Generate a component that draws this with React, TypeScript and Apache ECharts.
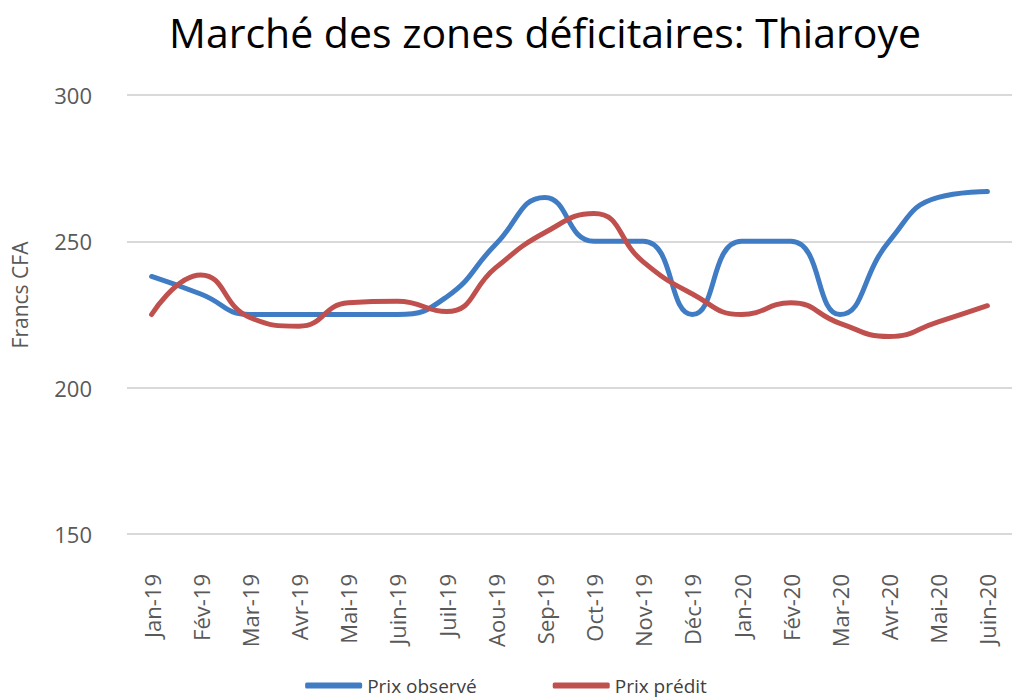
import React, { useEffect, useRef } from "react";
import * as echarts from "echarts";

const titleText = "Marché des zones déficitaires: Thiaroye";
const yAxisName = "Francs CFA";
const categories = [
  "Jan-19", "Fév-19", "Mar-19", "Avr-19", "Mai-19", "Juin-19", "Juil-19", "Aou-19", "Sep-19",
  "Oct-19", "Nov-19", "Déc-19", "Jan-20", "Fév-20", "Mar-20", "Avr-20", "Mai-20", "Juin-20",
];
const observedName = "Prix observé";
const observed = [238, 232, 225, 225, 225, 225, 231, 249, 265, 250, 250, 225, 250, 250, 225, 250, 265, 267];
const predictedName = "Prix prédit";
const predicted = [225, 238.5, 224, 221, 229, 229.5, 226, 241, 253, 259.5, 243, 232, 225, 229, 222, 217.5, 222.5, 228];
const yTicks = { min: 150, max: 300, interval: 50 };

const labelFont = "'Open Sans', sans-serif";

export default function App() {
  const ref = useRef<HTMLDivElement>(null);
  useEffect(() => {
    document.body.style.margin = "0";
    const chart = echarts.init(ref.current!, null, { renderer: "svg" });
    chart.setOption({
      animation: false,
      backgroundColor: "#ffffff",
      title: {
        text: titleText,
        left: 164,
        top: 6,
        textStyle: {
          fontFamily: "'Open Sans', sans-serif",
          fontWeight: "normal",
          fontSize: 41,
          color: "#000000",
        },
      },
      graphic: [
        {
          type: "text",
          x: 20,
          y: 295,
          rotation: Math.PI / 2,
          style: {
            text: yAxisName,
            fontFamily: labelFont,
            fontSize: 21,
            fill: "#595959",
            align: "center",
            verticalAlign: "middle",
          },
        },
      ],
      grid: { left: 127, right: 0, top: 95, bottom: 699 - 534 },
      legend: {
        top: 671,
        left: "center",
        icon: "roundRect",
        itemWidth: 57,
        itemHeight: 6,
        itemGap: 76,
        textStyle: { fontFamily: labelFont, fontSize: 19, color: "#404040" },
        data: [observedName, predictedName],
      },
      xAxis: {
        type: "category",
        data: categories,
        boundaryGap: true,
        axisLine: { show: false },
        axisTick: { show: false },
        axisLabel: {
          rotate: 90,
          margin: 40,
          fontFamily: labelFont,
          fontSize: 22,
          color: "#595959",
        },
      },
      yAxis: {
        type: "value",
        min: yTicks.min,
        max: yTicks.max,
        interval: yTicks.interval,
        axisLine: { show: false },
        axisTick: { show: false },
        axisLabel: {
          margin: 35,
          fontFamily: labelFont,
          fontSize: 22,
          color: "#595959",
        },
        splitLine: { lineStyle: { color: "#d9d9d9", width: 2 } },
      },
      series: [
        {
          name: observedName,
          type: "line",
          data: observed,
          smooth: 0.5,
          showSymbol: false,
          symbol: "none",
          lineStyle: { color: "#3f7cc4", width: 5, cap: "round" },
          itemStyle: { color: "#3f7cc4" },
        },
        {
          name: predictedName,
          type: "line",
          data: predicted,
          smooth: 0.5,
          showSymbol: false,
          symbol: "none",
          lineStyle: { color: "#c0504d", width: 5, cap: "round" },
          itemStyle: { color: "#c0504d" },
        },
      ],
    });
    return () => chart.dispose();
  }, []);
  return <div ref={ref} style={{ width: 1012, height: 699 }} />;
}
